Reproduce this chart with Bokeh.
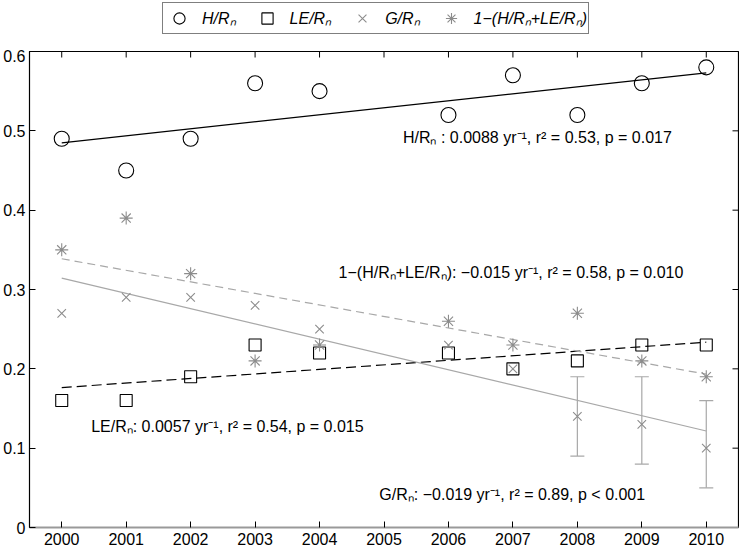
import numpy as np
from bokeh.plotting import figure
from bokeh.layouts import column
from bokeh.models import (ColumnDataSource, Legend, LegendItem,
                          FixedTicker, Label, Whisker, TeeHead, Range1d)
from bokeh.embed import file_html
from bokeh.resources import INLINE

# ---- data ----
years = [2000, 2001, 2002, 2003, 2004, 2006, 2007, 2008, 2009, 2010]
h_rn = [0.49, 0.45, 0.49, 0.56, 0.55, 0.52, 0.57, 0.52, 0.56, 0.58]
le_rn = [0.16, 0.16, 0.19, 0.23, 0.22, 0.22, 0.20, 0.21, 0.23, 0.23]
g_rn = [0.27, 0.29, 0.29, 0.28, 0.25, 0.23, 0.20, 0.14, 0.13, 0.10]
resid = [0.35, 0.39, 0.32, 0.21, 0.23, 0.26, 0.23, 0.27, 0.21, 0.19]

err_years = [2008, 2009, 2010]
g_err_lower = [0.09, 0.08, 0.05]
g_err_upper = [0.19, 0.19, 0.16]

fit_years = [2000, 2010]

x_ticks = list(range(2000, 2011))
y_ticks = [0, 0.1, 0.2, 0.3, 0.4, 0.5, 0.6]

legend_labels = ["H/R\u2099", "LE/R\u2099", "G/R\u2099", "1\u2212(H/R\u2099+LE/R\u2099)"]

ann_texts = [
    "H/R\u2099 : 0.0088 yr\u207b\u00b9, r\u00b2 = 0.53, p = 0.017",
    "1\u2212(H/R\u2099+LE/R\u2099): \u22120.015 yr\u207b\u00b9, r\u00b2 = 0.58, p = 0.010",
    "LE/R\u2099: 0.0057 yr\u207b\u00b9, r\u00b2 = 0.54, p = 0.015",
    "G/R\u2099: \u22120.019 yr\u207b\u00b9, r\u00b2 = 0.89, p < 0.001",
]
ann_x = [2007.38, 2006.97, 2002.57, 2006.99]
ann_y = [0.491, 0.322, 0.127, 0.042]

# ---- styling ----
FONT = "Liberation Sans"
GRAY = "#8c8c8c"
LGRAY = "#a8a8a8"
X0, X1, Y0, Y1 = 1999.5, 2010.5, 0, 0.6
FRAME_W, FRAME_H = 709, 476
TOTAL_W = 740
LEG_H = 49

p = figure(frame_width=FRAME_W, frame_height=FRAME_H, output_backend="svg",
           toolbar_location=None,
           x_range=Range1d(X0, X1), y_range=Range1d(Y0, Y1),
           min_border_left=0, min_border_right=1, min_border_top=2,
           min_border_bottom=1)
p.xgrid.visible = False
p.ygrid.visible = False
p.outline_line_color = "black"
p.outline_line_width = 1.2
p.background_fill_color = "white"

for ax in (p.xaxis[0], p.yaxis[0]):
    ax.major_tick_in = 6
    ax.major_tick_out = 0
    ax.minor_tick_in = 0
    ax.minor_tick_out = 0
    ax.major_tick_line_color = "black"
    ax.axis_line_color = "black"
    ax.major_label_text_font = FONT
    ax.major_label_text_font_size = "16px"
    ax.major_label_text_color = "black"
p.yaxis[0].major_label_standoff = 4
p.xaxis[0].major_label_standoff = 5
p.xaxis.ticker = FixedTicker(ticks=x_ticks)
p.yaxis.ticker = FixedTicker(ticks=y_ticks)
p.xaxis[0].axis_line_color = "#999999"
p.xaxis[0].axis_line_width = 2

# mirrored inward ticks on top and right edges (half of each dash is clipped)
p.scatter(x_ticks, [Y1] * len(x_ticks), marker="dash", size=12,
          angle=np.pi / 2, line_color="black", line_width=1)
p.scatter([X1] * len(y_ticks), y_ticks, marker="dash", size=12,
          line_color="black", line_width=1)

src = ColumnDataSource(dict(year=years, h=h_rn, le=le_rn, g=g_rn, r=resid))

# trend lines (least-squares fits of the data)
def fit(vals):
    c = np.polyfit(years, vals, 1)
    return np.polyval(c, fit_years)

p.line(fit_years, fit(h_rn), line_color="black", line_width=1.2)
p.line(fit_years, fit(le_rn), line_color="black", line_width=1.2, line_dash="10 5")
p.line(fit_years, fit(g_rn), line_color=LGRAY, line_width=1.2)
p.line(fit_years, fit(resid), line_color=LGRAY, line_width=1.2, line_dash="8 5")

# error bars
esrc = ColumnDataSource(dict(x=err_years, lo=g_err_lower, hi=g_err_upper))
wh = Whisker(source=esrc, base="x", lower="lo", upper="hi", dimension="height",
             line_color=LGRAY, line_width=1.2,
             upper_head=TeeHead(size=14, line_color=LGRAY, line_width=1.2),
             lower_head=TeeHead(size=14, line_color=LGRAY, line_width=1.2))
p.add_layout(wh)

COLS = ["h", "le", "g", "r"]
STYLES = [
    dict(marker="circle", size=15, fill_color=None, line_color="black", line_width=1.1),
    dict(marker="square", size=12, fill_color=None, line_color="black", line_width=1.1),
    dict(marker="x", size=12, line_color=GRAY, line_width=1.1),
    dict(marker="asterisk", size=13, line_color=GRAY, line_width=1.1),
]
for col, st in zip(COLS, STYLES):
    p.scatter("year", col, source=src, **st)

for t, x, y in zip(ann_texts, ann_x, ann_y):
    p.add_layout(Label(x=x, y=y, text=t, text_align="center",
                       text_baseline="middle", text_font=FONT,
                       text_font_size="16px", text_color="black"))

# ---- legend strip above the plot (its renderers' points lie outside its view) ----
lf = figure(width=TOTAL_W, height=LEG_H, output_backend="svg",
            toolbar_location=None, x_axis_type=None, y_axis_type=None,
            x_range=Range1d(0, 1), y_range=Range1d(0, 1), min_border=0)
lf.outline_line_color = None
lf.grid.visible = False
leg_rs = [lf.scatter("year", col, source=src, **st) for col, st in zip(COLS, STYLES)]

legend = Legend(items=[LegendItem(label=l, renderers=[r])
                       for l, r in zip(legend_labels, leg_rs)],
                orientation="horizontal", location=(133, 15),
                border_line_color="black", border_line_width=1.2,
                label_text_font=FONT, label_text_font_size="16px",
                label_text_font_style="italic", label_text_color="black",
                glyph_width=30, glyph_height=28, label_standoff=8,
                spacing=16, padding=1, margin=0,
                background_fill_alpha=1.0)
lf.add_layout(legend)

layout = column(lf, p, spacing=0)
open("out.html", "w").write(file_html(layout, INLINE))
